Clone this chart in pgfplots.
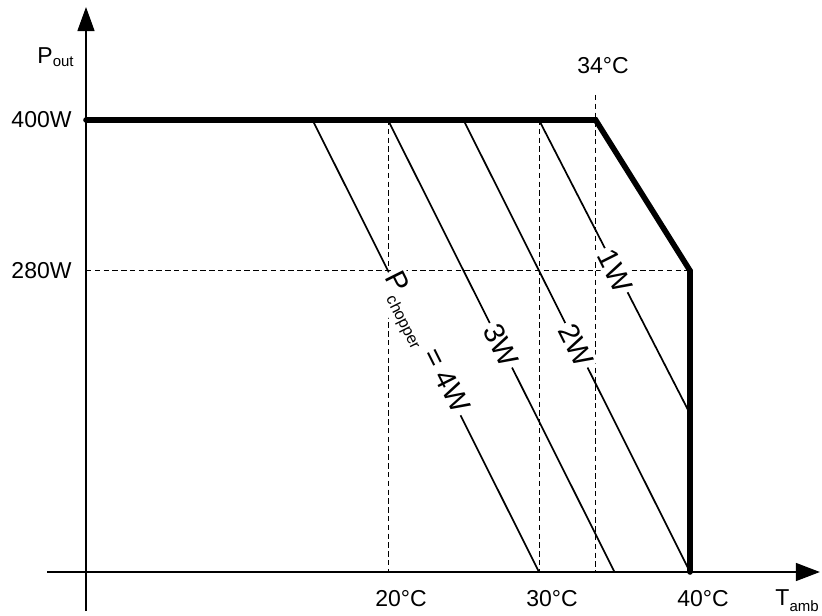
\documentclass[border=0pt]{standalone}
\usepackage{pgfplots}
\pgfplotsset{compat=1.18}
\usetikzlibrary{arrows.meta}
\usepackage{fontspec}
\setmainfont{Liberation Sans}
\newcommand{\lbl}{\fontsize{11.5}{13}\selectfont}
\begin{document}
\begin{tikzpicture}
\begin{axis}[
  scale only axis, width=387.5pt, height=302pt,
  xmin=-2.58, xmax=48.74, ymin=8.94, ymax=490,
  axis lines=none, clip=false,
  ]
% dashed guide lines
\addplot[black, line width=0.45pt, dash pattern=on 2.7pt off 1.7pt] coordinates {(20,400) (20,40)};
\addplot[black, line width=0.45pt, dash pattern=on 2.7pt off 1.7pt] coordinates {(30,400) (30,40)};
\addplot[black, line width=0.45pt, dash pattern=on 2.7pt off 1.7pt] coordinates {(33.75,420) (33.75,40)};
\addplot[black, line width=0.45pt, dash pattern=on 2.7pt off 1.7pt] coordinates {(0,280) (40,280)};
% chopper loss lines
\addplot[black, line width=0.85pt] coordinates {(15,400) (30,40)};
\addplot[black, line width=0.85pt] coordinates {(20,400) (35,40)};
\addplot[black, line width=0.85pt] coordinates {(25,400) (40,40)};
\addplot[black, line width=0.85pt] coordinates {(30,400) (40,166)};
% rotated labels
\node[rotate=-63.4, fill=white, inner sep=1.5pt, font=\fontsize{14.5}{16}\selectfont] at (axis cs:22.3,221) {P\raisebox{-4pt}{\fontsize{8}{10}\selectfont chopper} = 4W};
\node[rotate=-63.4, fill=white, inner sep=1.5pt, font=\fontsize{14.5}{16}\selectfont] at (axis cs:27.46,220.5) {3W};
\node[rotate=-63.4, fill=white, inner sep=1.5pt, font=\fontsize{14.5}{16}\selectfont] at (axis cs:32.46,220.5) {2W};
\node[rotate=-63.4, fill=white, inner sep=1.5pt, font=\fontsize{14.5}{16}\selectfont] at (axis cs:35.05,280) {1W};
% derating curve
\addplot[black, line width=2.8pt, line cap=round, line join=miter] coordinates {(0,400) (33.75,400) (40,280) (40,40)};
% axes
\draw[black, line width=0.7pt, -{Triangle[length=12pt,width=9pt]}] (axis cs:-2.58,40) -- (axis cs:48.6,40);
\draw[black, line width=0.7pt, -{Triangle[length=12pt,width=8.5pt]}] (axis cs:0,8.94) -- (axis cs:0,490);
% tick labels
\node[anchor=east, inner sep=0pt, font=\lbl] at (axis cs:-0.93,400) {400W};
\node[anchor=east, inner sep=0pt, font=\lbl] at (axis cs:-0.93,280) {280W};
\node[anchor=base, inner sep=0pt, font=\lbl] at (axis cs:20.86,12.9) {20°C};
\node[anchor=base, inner sep=0pt, font=\lbl] at (axis cs:30.86,12.9) {30°C};
\node[anchor=base, inner sep=0pt, font=\lbl] at (axis cs:40.86,12.9) {40°C};
\node[anchor=center, inner sep=0pt, font=\lbl] at (axis cs:34.24,443) {34°C};
\node[anchor=base east, inner sep=0pt, font=\lbl] at (axis cs:-0.79,445.4) {P\raisebox{-1.5pt}{\fontsize{7.5}{9}\selectfont out}};
\node[anchor=base west, inner sep=0pt, font=\lbl] at (axis cs:45.63,13.7) {T\raisebox{-3pt}{\fontsize{7.5}{9}\selectfont amb}};
\coordinate (bl) at (axis cs:-5.695,5.75);
\coordinate (tr) at (axis cs:48.74,495.6);
\end{axis}
\pgfresetboundingbox
\path[use as bounding box] (bl) rectangle (tr);
\end{tikzpicture}
\end{document}
